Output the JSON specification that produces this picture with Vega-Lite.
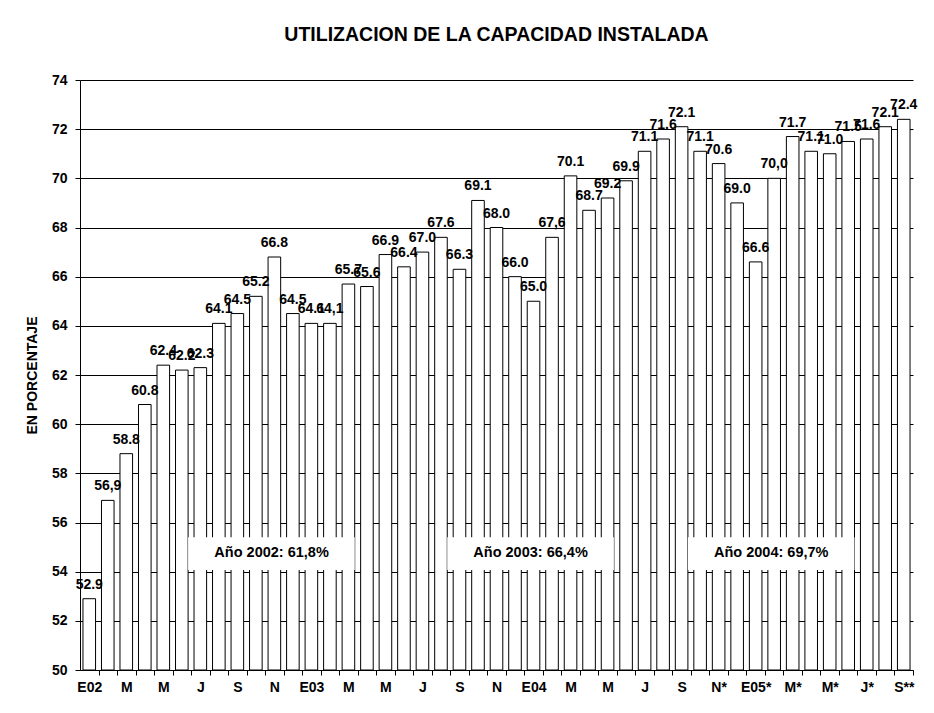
{
  "$schema": "https://vega.github.io/schema/vega-lite/v6.json",
  "width": 833,
  "height": 590,
  "autosize": {"type": "none"},
  "padding": {"left": 80, "top": 80, "right": 21, "bottom": 43},
  "background": "white",
  "title": {"text": "UTILIZACION DE LA CAPACIDAD INSTALADA", "fontSize": 19.5, "font": "Arial", "fontWeight": "bold", "color": "black", "anchor": "middle", "offset": 28},
  "config": {"view": {"stroke": null}, "font": "Arial"},
  "datasets": {
    "meses": [
      {"periodo": "2002-01", "valor": 52.9, "etiqueta": "52.9"},
      {"periodo": "2002-02", "valor": 56.9, "etiqueta": "56,9"},
      {"periodo": "2002-03", "valor": 58.8, "etiqueta": "58.8"},
      {"periodo": "2002-04", "valor": 60.8, "etiqueta": "60.8"},
      {"periodo": "2002-05", "valor": 62.4, "etiqueta": "62.4"},
      {"periodo": "2002-06", "valor": 62.2, "etiqueta": "62.2"},
      {"periodo": "2002-07", "valor": 62.3, "etiqueta": "62.3"},
      {"periodo": "2002-08", "valor": 64.1, "etiqueta": "64.1"},
      {"periodo": "2002-09", "valor": 64.5, "etiqueta": "64.5"},
      {"periodo": "2002-10", "valor": 65.2, "etiqueta": "65.2"},
      {"periodo": "2002-11", "valor": 66.8, "etiqueta": "66.8"},
      {"periodo": "2002-12", "valor": 64.5, "etiqueta": "64.5"},
      {"periodo": "2003-01", "valor": 64.1, "etiqueta": "64.1"},
      {"periodo": "2003-02", "valor": 64.1, "etiqueta": "64,1"},
      {"periodo": "2003-03", "valor": 65.7, "etiqueta": "65.7"},
      {"periodo": "2003-04", "valor": 65.6, "etiqueta": "65.6"},
      {"periodo": "2003-05", "valor": 66.9, "etiqueta": "66.9"},
      {"periodo": "2003-06", "valor": 66.4, "etiqueta": "66.4"},
      {"periodo": "2003-07", "valor": 67.0, "etiqueta": "67.0"},
      {"periodo": "2003-08", "valor": 67.6, "etiqueta": "67.6"},
      {"periodo": "2003-09", "valor": 66.3, "etiqueta": "66.3"},
      {"periodo": "2003-10", "valor": 69.1, "etiqueta": "69.1"},
      {"periodo": "2003-11", "valor": 68.0, "etiqueta": "68.0"},
      {"periodo": "2003-12", "valor": 66.0, "etiqueta": "66.0"},
      {"periodo": "2004-01", "valor": 65.0, "etiqueta": "65.0"},
      {"periodo": "2004-02", "valor": 67.6, "etiqueta": "67,6"},
      {"periodo": "2004-03", "valor": 70.1, "etiqueta": "70.1"},
      {"periodo": "2004-04", "valor": 68.7, "etiqueta": "68.7"},
      {"periodo": "2004-05", "valor": 69.2, "etiqueta": "69.2"},
      {"periodo": "2004-06", "valor": 69.9, "etiqueta": "69.9"},
      {"periodo": "2004-07", "valor": 71.1, "etiqueta": "71.1"},
      {"periodo": "2004-08", "valor": 71.6, "etiqueta": "71.6"},
      {"periodo": "2004-09", "valor": 72.1, "etiqueta": "72.1"},
      {"periodo": "2004-10", "valor": 71.1, "etiqueta": "71.1"},
      {"periodo": "2004-11", "valor": 70.6, "etiqueta": "70.6"},
      {"periodo": "2004-12", "valor": 69.0, "etiqueta": "69.0"},
      {"periodo": "2005-01", "valor": 66.6, "etiqueta": "66.6"},
      {"periodo": "2005-02", "valor": 70.0, "etiqueta": "70,0"},
      {"periodo": "2005-03", "valor": 71.7, "etiqueta": "71.7"},
      {"periodo": "2005-04", "valor": 71.1, "etiqueta": "71.1"},
      {"periodo": "2005-05", "valor": 71.0, "etiqueta": "71.0"},
      {"periodo": "2005-06", "valor": 71.5, "etiqueta": "71.5"},
      {"periodo": "2005-07", "valor": 71.6, "etiqueta": "71.6"},
      {"periodo": "2005-08", "valor": 72.1, "etiqueta": "72.1"},
      {"periodo": "2005-09", "valor": 72.4, "etiqueta": "72.4"}
    ],
    "notas": [
      {"desde": 5.84, "hasta": 14.84, "centro": 10.35, "y1": 54.07, "y2": 55.4, "yt": 54.75, "texto": "Año 2002: 61,8%"},
      {"desde": 19.84, "hasta": 28.84, "centro": 24.34, "y1": 54.07, "y2": 55.4, "yt": 54.75, "texto": "Año 2003: 66,4%"},
      {"desde": 32.84, "hasta": 41.84, "centro": 37.34, "y1": 54.07, "y2": 55.4, "yt": 54.75, "texto": "Año 2004: 69,7%"}
    ]
  },
  "resolve": {"scale": {"x": "independent"}, "axis": {"x": "independent"}},
  "layer": [
    {
      "data": {"name": "meses"},
      "encoding": {
        "x": {
          "field": "periodo", "type": "nominal", "sort": null,
          "scale": {"paddingInner": 0.32, "paddingOuter": 0.16},
          "axis": {
            "title": null, "labelAngle": 0, "grid": false,
            "tickOffset": 9.25, "labelOffset": -9.25,
            "domainColor": "black", "tickColor": "black", "tickSize": 5, "labelPadding": 5,
            "labelFontSize": 14, "labelFontWeight": "bold", "labelColor": "black",
            "labelExpr": "toNumber(substring(datum.value,5,7)) % 2 == 0 ? '' : ((substring(datum.value,5,7) == '01' ? 'E' + substring(datum.value,2,4) : (substring(datum.value,5,7) == '03' || substring(datum.value,5,7) == '05') ? 'M' : substring(datum.value,5,7) == '07' ? 'J' : substring(datum.value,5,7) == '09' ? 'S' : 'N') + (datum.value == '2005-09' ? '**' : datum.value >= '2004-11' ? '*' : ''))"
          }
        },
        "y": {
          "field": "valor", "type": "quantitative",
          "scale": {"domain": [50, 74], "nice": false, "zero": false},
          "axis": {
            "title": "EN PORCENTAJE", "titleFontSize": 14, "titleFontWeight": "bold", "titleColor": "black", "titlePadding": 12,
            "values": [50, 52, 54, 56, 58, 60, 62, 64, 66, 68, 70, 72, 74],
            "labelFontSize": 14, "labelFontWeight": "bold", "labelColor": "black", "labelPadding": 8,
            "domainColor": "black", "tickColor": "black", "tickSize": 5,
            "grid": true, "gridColor": "black", "gridOpacity": 1, "gridWidth": 1
          }
        }
      },
      "layer": [
        {
          "mark": {"type": "bar", "fill": "white", "stroke": "black", "strokeWidth": 1},
          "encoding": {"y2": {"datum": 50}}
        },
        {
          "mark": {"type": "text", "align": "center", "baseline": "alphabetic", "dy": -10, "fontSize": 14, "fontWeight": "bold", "color": "black"},
          "encoding": {"text": {"field": "etiqueta"}}
        }
      ]
    },
    {
      "data": {"name": "notas"},
      "layer": [
        {
          "mark": {"type": "rect", "fill": "white"},
          "encoding": {
            "x": {"field": "desde", "type": "quantitative", "scale": {"domain": [0, 45], "nice": false, "zero": false}, "axis": null},
            "x2": {"field": "hasta"},
            "y": {"field": "y1", "type": "quantitative"},
            "y2": {"field": "y2"}
          }
        },
        {
          "mark": {"type": "text", "align": "center", "baseline": "middle", "fontSize": 14.5, "fontWeight": "bold", "color": "black"},
          "encoding": {
            "x": {"field": "centro", "type": "quantitative", "axis": null},
            "y": {"field": "yt", "type": "quantitative"},
            "text": {"field": "texto"}
          }
        }
      ]
    }
  ]
}
